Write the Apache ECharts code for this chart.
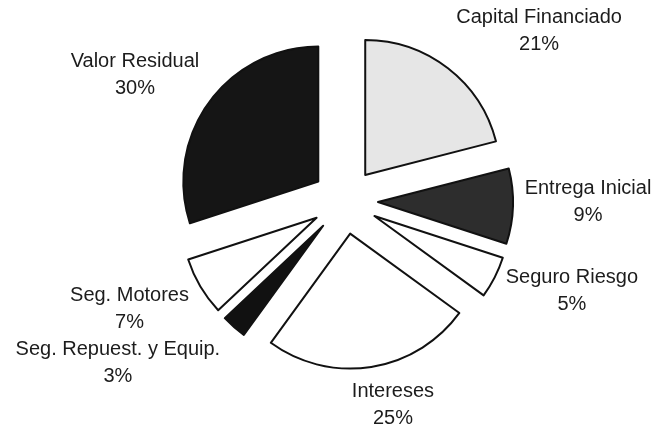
<!DOCTYPE html>
<html lang="es">
<head>
    <meta charset="UTF-8">
    <title>Composición de la cuota</title>
    <script src="https://cdn.jsdelivr.net/npm/echarts@6/dist/echarts.min.js"></script>
    <style>
        * { margin: 0; padding: 0; box-sizing: border-box; }
        body { background: #fff; }
        #chart { width: 657px; height: 433px; }
    </style>
</head>
<body>
    <div id="chart"></div>
    <script>
        // datos del gráfico (sentido horario desde las 12)
        const categories = ['Capital Financiado', 'Entrega Inicial', 'Seguro Riesgo', 'Intereses',
            'Seg. Repuest. y Equip.', 'Seg. Motores', 'Valor Residual'];
        const shares = [21, 9, 5, 25, 3, 7, 30];

        // estilo
        const fills = ['#e6e6e6', '#2d2d2d', '#ffffff', '#ffffff', '#111111', '#ffffff', '#151515'];
        // ajuste de etiquetas: [giro en grados, distancia al centro en px]
        const labelNudge = [[11, 258], [-1.6, 243], [-5.4, 244], [-4.2, 210], [13.1, 279], [4, 241], [-5, 245]];

        const cx = 345, cy = 201;
        const total = shares.reduce((a, b) => a + b, 0);

        function midAngle(i) {
            let before = 0;
            for (let k = 0; k < i; k++) before += shares[k];
            return (before + shares[i] / 2) / total * 360;
        }

        // etiquetas: nombre + porcentaje, colocadas en el radio medio de cada porción
        const labels = categories.map((name, i) => {
            const a = (midAngle(i) + labelNudge[i][0]) * Math.PI / 180;
            const d = labelNudge[i][1];
            return {
                type: 'text',
                x: cx + d * Math.sin(a),
                y: cy - d * Math.cos(a),
                style: {
                    text: name + '\n' + shares[i] + '%',
                    textAlign: 'center',
                    textVerticalAlign: 'middle',
                    fontFamily: '"Liberation Sans", Arial, sans-serif',
                    fontSize: 20,
                    lineHeight: 27,
                    fill: '#1c1c1c'
                }
            };
        });

        const chart = echarts.init(document.getElementById('chart'));
        chart.setOption({
            animation: false,
            graphic: labels,
            series: [{
                type: 'pie',
                center: [cx, cy],
                radius: 135,
                startAngle: 90,
                clockwise: true,
                selectedMode: 'multiple',
                selectedOffset: 33,
                itemStyle: { borderColor: '#111', borderWidth: 2 },
                select: { itemStyle: { borderColor: '#111', borderWidth: 2 } },
                emphasis: { disabled: true },
                label: { show: false },
                labelLine: { show: false },
                data: categories.map((name, i) => ({
                    name: name,
                    value: shares[i],
                    selected: true,
                    itemStyle: { color: fills[i] }
                }))
            }]
        });
    </script>
</body>
</html>
